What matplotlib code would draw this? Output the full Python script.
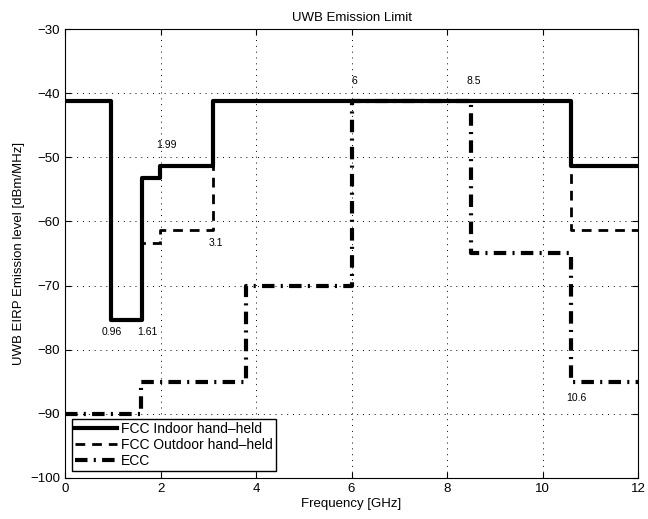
import matplotlib
matplotlib.use("Agg")
import matplotlib.pyplot as plt

plt.rcParams['font.family'] = ['Liberation Sans', 'DejaVu Sans']

# step edges [GHz] and levels [dBm/MHz]
indoor_f = [0, 0.96, 1.61, 1.99, 3.1, 10.6, 12]
indoor_db = [-41.3, -75.3, -53.3, -51.3, -41.3, -51.3]
outdoor_f = [0, 0.96, 1.61, 1.99, 3.1, 10.6, 12]
outdoor_db = [-41.3, -75.3, -63.3, -61.3, -41.3, -61.3]
ecc_f = [0, 1.6, 3.8, 6, 8.5, 10.6, 12]
ecc_db = [-90, -85, -70, -41.3, -65, -85]

# annotations: label, x, y
ann_txt = ["0.96", "1.61", "1.99", "3.1", "6", "8.5", "10.6"]
ann_x = [0.98, 1.73, 2.12, 3.16, 6.07, 8.57, 10.71]
ann_y = [-77.2, -77.2, -48.1, -63.3, -38.1, -38.1, -87.5]


def steps(f, v):
    xs, ys = [], []
    for i in range(len(v)):
        xs += [f[i], f[i+1]]
        ys += [v[i], v[i]]
    return xs, ys


fig = plt.figure(figsize=(6.48, 5.19), dpi=100)
ax = fig.add_axes([65/648, 1-478/519, (638-65)/648, (478-29)/519])

x, y = steps(indoor_f, indoor_db)
ax.plot(x, y, 'k-', lw=3, label='FCC Indoor hand\u2013held')
x, y = steps(outdoor_f, outdoor_db)
ax.plot(x, y, 'k', ls=(0, (3.5, 2.5)), lw=2, label='FCC Outdoor hand\u2013held')
x, y = steps(ecc_f, ecc_db)
ax.plot(x, y, 'k', ls=(0, (3, 1.5, 0.5, 1.5)), lw=3, label='ECC')

for t, xx, yy in zip(ann_txt, ann_x, ann_y):
    ax.text(xx, yy, t, fontsize=7.5, ha='center', va='center')

ax.set_xlim(0, 12)
ax.set_ylim(-100, -30)
ax.set_xticks(range(0, 13, 2))
ax.set_yticks(range(-100, -29, 10))
ax.set_yticklabels(['\u2212%d' % abs(v) for v in range(-100, -29, 10)])
ax.tick_params(direction='in', labelsize=9.5, top=True, right=True, length=4)
ax.grid(True, ls=(0, (1, 5)), color='k', lw=0.7)

ax.set_title('UWB Emission Limit', fontsize=9.5)
ax.set_xlabel('Frequency [GHz]', fontsize=9.5, labelpad=2)
ax.set_ylabel('UWB EIRP Emission level [dBm/MHz]', fontsize=9.5)

leg = ax.legend(loc='lower left', fontsize=10, fancybox=False, framealpha=1,
                edgecolor='k', borderaxespad=0.5, handlelength=3,
                borderpad=0.25, labelspacing=0.12, handletextpad=0.3)
leg.get_frame().set_linewidth(1)

fig.savefig('out.png', dpi=100)
